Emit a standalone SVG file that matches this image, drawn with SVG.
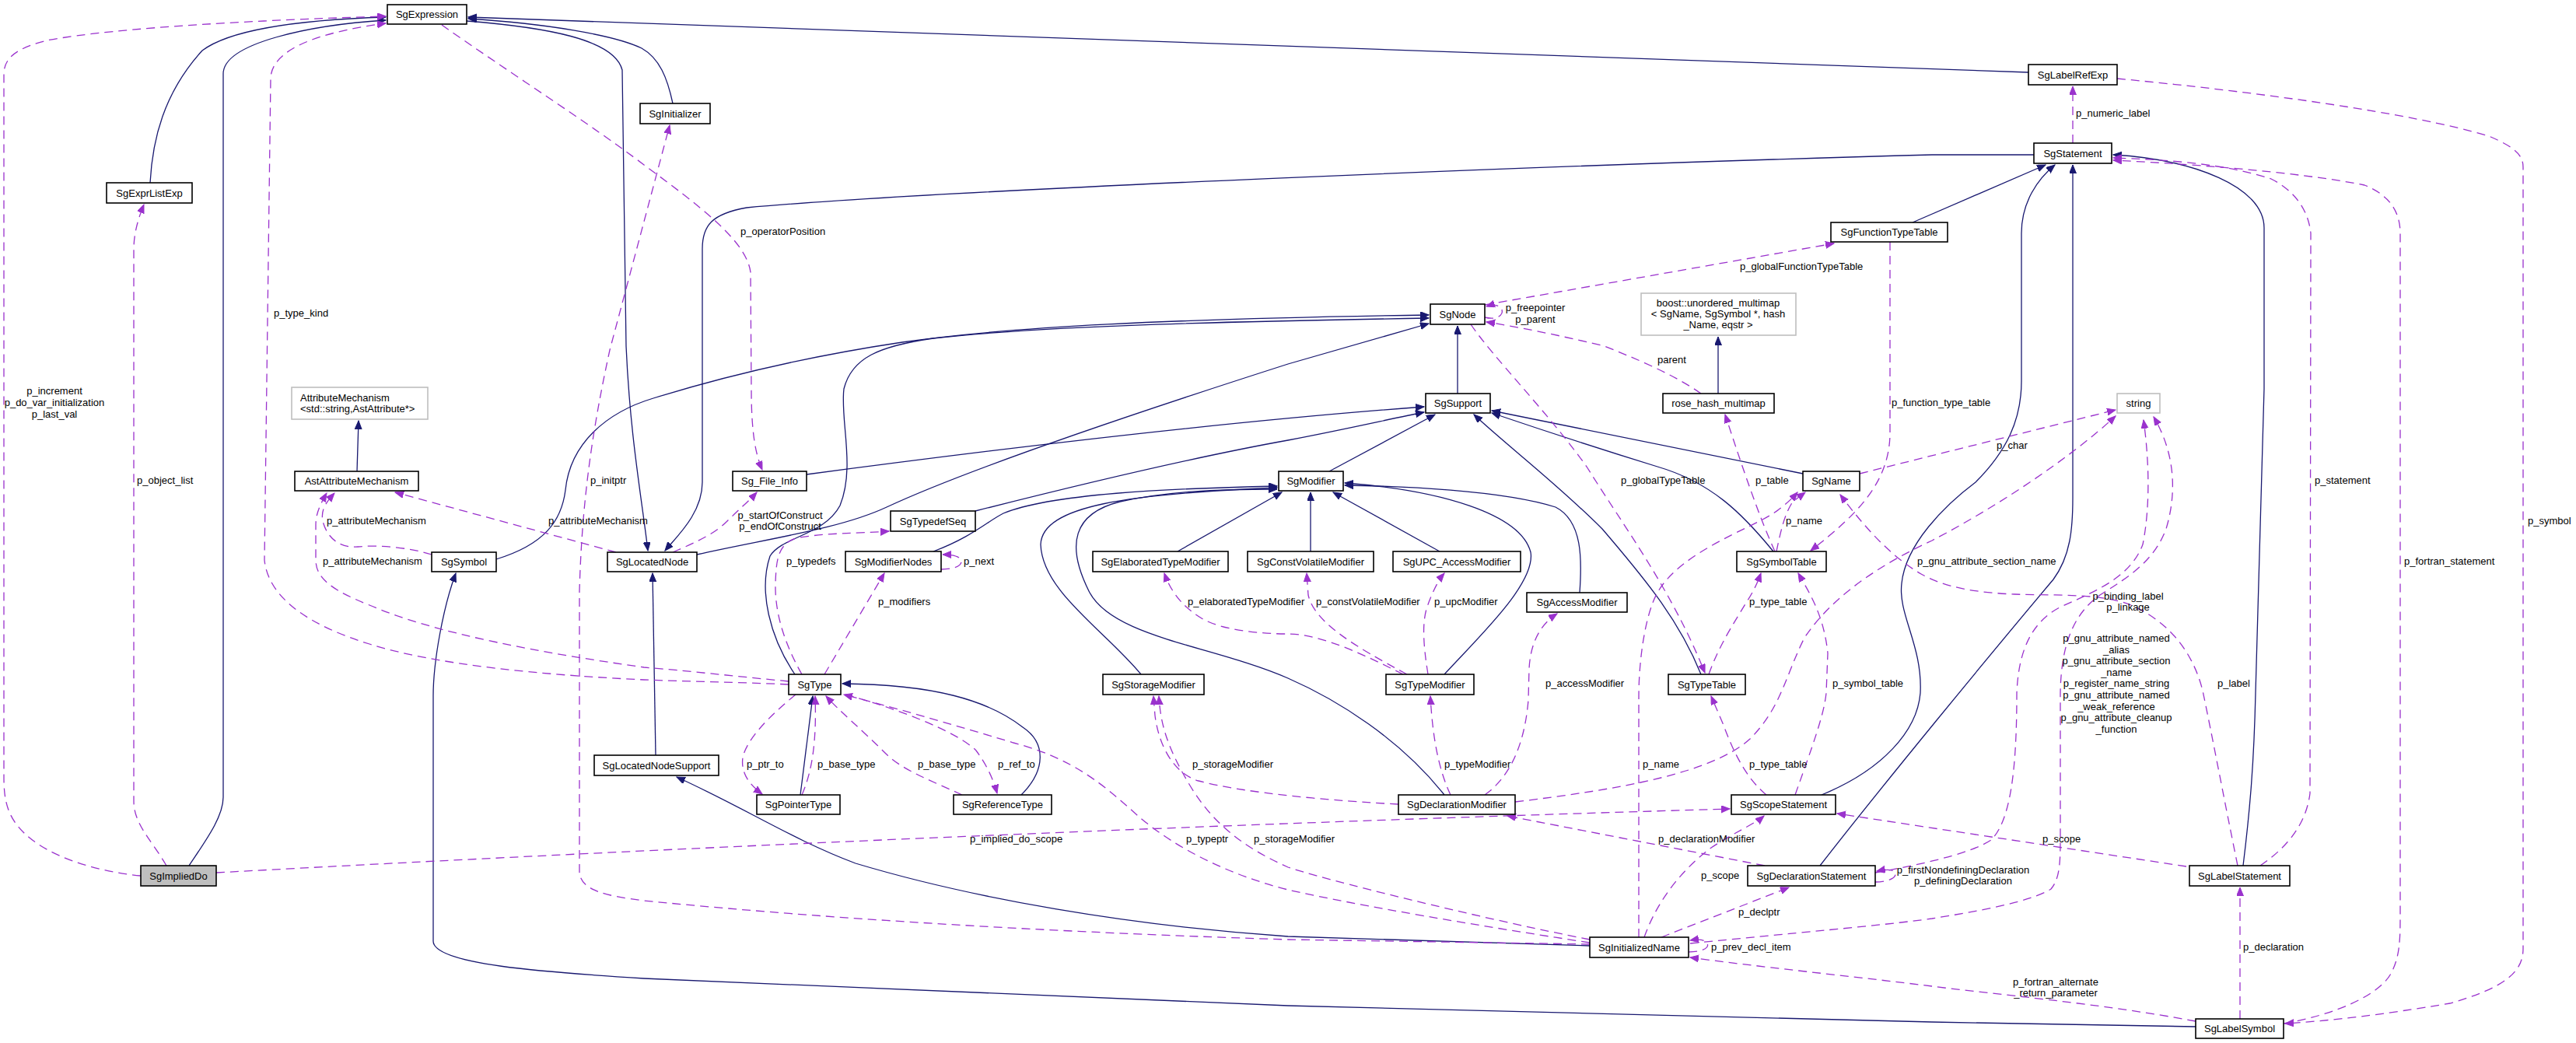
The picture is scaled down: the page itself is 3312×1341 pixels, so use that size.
<svg xmlns="http://www.w3.org/2000/svg" width="3312" height="1341" viewBox="0 0 3312 1341">
<defs>
<marker id="ah" markerUnits="userSpaceOnUse" markerWidth="12" markerHeight="10" refX="11" refY="4.5" orient="auto"><path d="M0,0 L11,4.5 L0,9 Z" fill="#191970" stroke="#191970" stroke-width="1"/></marker>
<marker id="ap" markerUnits="userSpaceOnUse" markerWidth="12" markerHeight="10" refX="11" refY="4.5" orient="auto"><path d="M0,0 L11,4.5 L0,9 Z" fill="#9a32cd" stroke="#9a32cd" stroke-width="1"/></marker>
<style>
.inh{fill:none;stroke:#191970;stroke-width:1.3;marker-end:url(#ah)}
.use{fill:none;stroke:#9a32cd;stroke-width:1.3;stroke-dasharray:11,7;marker-end:url(#ap)}
.node rect{fill:#ffffff;stroke:#000000;stroke-width:1.6}
.node.gray rect{stroke:#bfbfbf}
.node.cur rect{fill:#bfbfbf}
text{font-family:"Liberation Sans",Arial,Helvetica,sans-serif;font-size:13px;fill:#000000}
.node text{text-anchor:middle}
.lbl{text-anchor:start}
.lc{text-anchor:middle}
</style>
</defs>
<rect x="0" y="0" width="3312" height="1341" fill="#ffffff"/>
<g id="edges">
<!-- inheritance -->
<path class="inh" d="M193,235 C196,180 210,120 260,65 C300,35 400,25 496,22"/>
<path class="inh" d="M243,1113 C265,1080 287,1050 287,1025 L287,95 C287,55 400,32 496,26"/>
<path class="inh" d="M865,133 C858,100 848,75 825,62 C790,45 700,30 602,24"/>
<path class="inh" d="M2608,93 L602,22"/>
<path class="inh" d="M600,27 C700,35 790,50 800,90 L805,445 C810,560 825,640 833,708"/>
<path class="inh" d="M2615,199 L2484,199 C2000,212 1200,245 960,267 C915,275 903,290 903,320 L903,620 C903,660 870,690 855,708"/>
<path class="inh" d="M843,971 L839,737"/>
<path class="inh" d="M896,713 C990,692 1080,680 1140,652 C1230,610 1400,550 1656,468 L1837,416"/>
<path class="inh" d="M638,719 C700,700 722,670 727,630 C733,570 780,530 840,512 C950,478 1060,455 1160,440 C1300,420 1500,410 1837,405"/>
<path class="inh" d="M1022,867 C990,820 975,760 990,715 C1005,690 1060,688 1080,650 C1100,600 1080,540 1085,500 C1095,460 1130,445 1200,435 C1350,418 1600,413 1837,409"/>
<path class="inh" d="M1874,506 L1874,419"/>
<path class="inh" d="M1037,610 C1300,575 1600,540 1831,523"/>
<path class="inh" d="M1254,657 C1400,620 1550,585 1656,566 C1730,552 1790,538 1831,530"/>
<path class="inh" d="M1709,606 L1845,533"/>
<path class="inh" d="M2318,609 L1918,528"/>
<path class="inh" d="M2280,709 C2240,660 2200,620 2131,600 C2050,575 1980,552 1918,531"/>
<path class="inh" d="M2187,867 C2160,800 2120,750 2060,680 C2000,620 1940,575 1895,533"/>
<path class="inh" d="M1200,709 C1250,690 1270,670 1290,660 C1350,635 1500,628 1642,625"/>
<path class="inh" d="M1467,867 C1420,810 1340,760 1338,700 C1340,650 1450,635 1642,627"/>
<path class="inh" d="M1857,1022 C1800,950 1720,900 1656,872 C1560,830 1430,820 1400,760 C1370,700 1380,660 1440,645 C1500,632 1560,629 1642,629"/>
<path class="inh" d="M1514,709 L1648,633"/>
<path class="inh" d="M1685,709 L1685,633"/>
<path class="inh" d="M1851,709 L1714,633"/>
<path class="inh" d="M1857,867 C1900,820 1975,750 1968,710 C1955,660 1850,630 1729,621"/>
<path class="inh" d="M2031,762 C2034,720 2035,670 2000,652 C1930,630 1800,625 1729,624"/>
<path class="inh" d="M2342,1022 C2420,990 2465,940 2469,891 C2472,830 2440,790 2445,750 C2450,700 2500,650 2540,620 C2580,580 2599,540 2599,490 L2599,300 C2599,260 2620,230 2642,212"/>
<path class="inh" d="M2340,1113 C2420,1010 2560,840 2640,745 C2662,715 2665,680 2665,640 L2665,212"/>
<path class="inh" d="M2884,1113 C2893,1040 2898,980 2900,891 L2911,500 L2911,293 C2911,240 2820,205 2717,199"/>
<path class="inh" d="M2459,286 L2630,212"/>
<path class="inh" d="M2823,1320 L2484,1314 L1656,1293 L828,1258 C700,1250 557,1240 557,1210 L557,895 C557,850 570,780 586,737"/>
<path class="inh" d="M2044,1216 L1656,1204 C1450,1190 1250,1155 1100,1110 C1020,1080 960,1040 870,999"/>
<path class="inh" d="M1029,1022 L1045,895"/>
<path class="inh" d="M1313,1022 C1345,990 1345,955 1315,935 C1270,900 1200,880 1083,879"/>
<path class="inh" d="M459,606 L461,541"/>
<path class="inh" d="M2209,506 L2209,433"/>
<!-- usage -->
<path class="use" d="M181,1126 C120,1120 60,1100 30,1070 C10,1050 5,1030 5,1000 L5,95 C5,70 30,60 60,52 C150,35 350,25 496,21"/>
<path class="use" d="M214,1113 C195,1080 172,1060 172,1030 L172,320 C172,300 178,280 185,263"/>
<path class="use" d="M278,1122 C900,1088 1600,1058 2224,1040"/>
<path class="use" d="M1014,880 C950,877 880,876 828,874 C700,868 560,855 475,828 C400,805 345,770 340,720 L348,100 C350,60 420,40 496,30"/>
<path class="use" d="M1014,876 C950,870 880,862 828,858 C700,840 560,815 475,778 C430,760 406,745 406,720 L406,675 C406,660 412,648 420,634"/>
<path class="use" d="M555,713 C530,705 490,700 460,703 C435,705 420,690 415,670 C412,655 420,645 430,634"/>
<path class="use" d="M792,710 L508,633"/>
<path class="use" d="M865,710 C900,695 920,685 935,670 C950,655 962,645 973,633"/>
<path class="use" d="M568,32 C650,90 760,160 828,212 C900,265 960,310 965,350 L966,500 C966,560 972,585 980,604"/>
<path class="use" d="M2044,1214 L1656,1208 C1400,1200 1100,1185 828,1158 C780,1152 745,1145 745,1120 L745,760 C748,650 760,560 784,450 L861,161"/>
<path class="use" d="M1031,867 C1010,830 996,790 997,750 C998,720 1000,700 1023,692 C1060,685 1100,686 1143,683"/>
<path class="use" d="M1060,867 L1137,737"/>
<path class="use" d="M1210,732 C1225,732 1236,728 1236,722 C1236,716 1226,713 1212,713"/>
<path class="use" d="M1804,867 C1760,845 1700,815 1656,815 C1620,815 1570,810 1545,795 C1520,780 1505,760 1497,737"/>
<path class="use" d="M1809,867 C1740,830 1690,800 1682,765 L1680,737"/>
<path class="use" d="M1836,867 C1830,830 1828,800 1835,780 C1842,760 1850,745 1857,737"/>
<path class="use" d="M1865,1022 C1850,990 1842,950 1839,895"/>
<path class="use" d="M1909,1022 C1940,1000 1960,960 1965,900 L1966,860 C1968,820 1985,800 2002,789"/>
<path class="use" d="M1798,1034 C1720,1030 1600,1020 1541,1004 C1510,995 1490,960 1485,920 L1483,895"/>
<path class="use" d="M2044,1208 C1900,1180 1700,1130 1656,1115 C1600,1090 1560,1060 1530,1010 C1500,960 1492,930 1490,895"/>
<path class="use" d="M2044,1212 C1900,1190 1750,1165 1656,1144 C1580,1125 1510,1090 1462,1048 C1420,1010 1380,975 1303,955 C1220,930 1150,910 1085,893"/>
<path class="use" d="M1031,1022 C1045,990 1050,950 1048,895"/>
<path class="use" d="M1023,893 C990,920 960,950 955,974 C952,995 965,1010 980,1021"/>
<path class="use" d="M1237,1022 C1200,1005 1160,990 1140,970 C1110,940 1080,915 1062,895"/>
<path class="use" d="M1087,893 C1150,910 1230,940 1255,965 C1270,985 1278,1005 1282,1020"/>
<path class="use" d="M1948,1031 C2080,1015 2200,995 2250,950 C2290,910 2295,870 2320,820 C2360,760 2430,720 2484,695 C2570,650 2660,590 2720,535"/>
<path class="use" d="M2269,1113 L1938,1049"/>
<path class="use" d="M2114,1205 C2130,1160 2160,1120 2200,1090 C2230,1070 2255,1060 2268,1049"/>
<path class="use" d="M2136,1205 L2300,1141"/>
<path class="use" d="M2171,1224 C2190,1224 2198,1218 2195,1213 C2192,1208 2185,1207 2173,1209"/>
<path class="use" d="M2107,1205 L2107,895 C2107,850 2115,790 2131,762 C2160,710 2250,680 2280,660 C2295,650 2305,640 2311,633"/>
<path class="use" d="M2284,709 C2290,680 2295,660 2305,645 L2321,633"/>
<path class="use" d="M2282,709 C2260,660 2240,600 2218,533"/>
<path class="use" d="M1909,408 C1925,412 1933,405 1931,398 C1929,392 1920,391 1911,394"/>
<path class="use" d="M2187,506 C2150,480 2100,460 2063,445 C2000,430 1950,420 1911,414"/>
<path class="use" d="M1909,392 L2358,313"/>
<path class="use" d="M1891,417 C1920,460 1990,530 2040,600 C2090,680 2150,760 2192,865"/>
<path class="use" d="M2430,311 L2430,560 C2428,620 2390,660 2328,708"/>
<path class="use" d="M2391,609 L2720,527"/>
<path class="use" d="M2308,1022 C2330,960 2345,920 2348,891 L2350,840 C2345,790 2325,760 2312,737"/>
<path class="use" d="M2197,867 C2210,830 2230,800 2245,775 C2255,760 2260,748 2264,737"/>
<path class="use" d="M2271,1022 C2245,1000 2230,970 2215,930 L2200,895"/>
<path class="use" d="M2665,184 L2665,111"/>
<path class="use" d="M2906,1113 C2940,1090 2965,1060 2970,1020 L2971,300 C2968,270 2950,245 2920,230 C2860,210 2780,205 2717,203"/>
<path class="use" d="M2936,1316 C3000,1305 3060,1280 3075,1250 C3085,1230 3086,1210 3086,1180 L3086,300 C3086,270 3070,250 3040,238 C2950,220 2800,210 2717,206"/>
<path class="use" d="M2722,101 C2900,118 3100,145 3200,175 C3235,190 3244,200 3244,215 L3244,1220 C3244,1250 3220,1270 3150,1290 C3060,1305 3000,1312 2938,1316"/>
<path class="use" d="M2811,1114 L2362,1046"/>
<path class="use" d="M2880,1310 L2880,1141"/>
<path class="use" d="M2823,1313 C2700,1290 2560,1278 2484,1268 C2380,1255 2260,1243 2173,1231"/>
<path class="use" d="M2877,1113 C2860,1030 2845,950 2832,888 C2820,840 2790,800 2740,778 C2700,762 2640,766 2590,764 C2540,762 2500,755 2470,738 C2430,715 2395,675 2366,636"/>
<path class="use" d="M2411,1122 C2450,1115 2530,1100 2560,1080 C2585,1055 2593,990 2593,891 C2595,840 2610,800 2650,780 C2700,758 2740,740 2755,700 C2765,650 2763,590 2756,540"/>
<path class="use" d="M2173,1213 C2300,1200 2420,1190 2484,1181 C2540,1172 2610,1160 2637,1143 C2648,1130 2649,1110 2649,1080 L2649,891 C2650,830 2665,790 2700,765 C2740,740 2770,720 2785,680 C2800,630 2795,580 2769,536"/>
<path class="use" d="M2411,1134 C2425,1134 2437,1130 2437,1124 C2437,1118 2428,1117 2413,1120"/>
</g>
<g id="edge-labels">
<text class="lc" x="70" y="507">p_increment</text>
<text class="lc" x="70" y="522">p_do_var_initialization</text>
<text class="lc" x="70" y="537">p_last_val</text>
<text class="lbl" x="176" y="622">p_object_list</text>
<text class="lbl" x="352" y="407">p_type_kind</text>
<text class="lbl" x="952" y="302">p_operatorPosition</text>
<text class="lbl" x="2669" y="150">p_numeric_label</text>
<text class="lbl" x="2237" y="347">p_globalFunctionTypeTable</text>
<text class="lc" x="1974" y="400">p_freepointer</text>
<text class="lc" x="1974" y="415">p_parent</text>
<text class="lbl" x="2131" y="467">parent</text>
<text class="lbl" x="2432" y="522">p_function_type_table</text>
<text class="lbl" x="2567" y="577">p_char</text>
<text class="lbl" x="2976" y="622">p_statement</text>
<text class="lbl" x="3250" y="674">p_symbol</text>
<text class="lbl" x="3091" y="726">p_fortran_statement</text>
<text class="lbl" x="2084" y="622">p_globalTypeTable</text>
<text class="lbl" x="2257" y="622">p_table</text>
<text class="lbl" x="2296" y="674">p_name</text>
<text class="lbl" x="2465" y="726">p_gnu_attribute_section_name</text>
<text class="lbl" x="420" y="674">p_attributeMechanism</text>
<text class="lbl" x="415" y="726">p_attributeMechanism</text>
<text class="lbl" x="705" y="674">p_attributeMechanism</text>
<text class="lbl" x="759" y="622">p_initptr</text>
<text class="lc" x="1003" y="667">p_startOfConstruct</text>
<text class="lc" x="1003" y="681">p_endOfConstruct</text>
<text class="lbl" x="1011" y="726">p_typedefs</text>
<text class="lbl" x="1239" y="726">p_next</text>
<text class="lbl" x="1129" y="778">p_modifiers</text>
<text class="lbl" x="1527" y="778">p_elaboratedTypeModifier</text>
<text class="lbl" x="1692" y="778">p_constVolatileModifier</text>
<text class="lbl" x="1844" y="778">p_upcModifier</text>
<text class="lbl" x="2249" y="778">p_type_table</text>
<text class="lbl" x="1987" y="883">p_accessModifier</text>
<text class="lbl" x="2356" y="883">p_symbol_table</text>
<text class="lc" x="2736" y="771">p_binding_label</text>
<text class="lc" x="2736" y="785">p_linkage</text>
<text class="lc" x="2721" y="825">p_gnu_attribute_named</text>
<text class="lc" x="2721" y="840">_alias</text>
<text class="lc" x="2721" y="854">p_gnu_attribute_section</text>
<text class="lc" x="2721" y="869">_name</text>
<text class="lc" x="2721" y="883">p_register_name_string</text>
<text class="lc" x="2721" y="898">p_gnu_attribute_named</text>
<text class="lc" x="2721" y="913">_weak_reference</text>
<text class="lc" x="2721" y="927">p_gnu_attribute_cleanup</text>
<text class="lc" x="2721" y="942">_function</text>
<text class="lbl" x="2851" y="883">p_label</text>
<text class="lbl" x="960" y="987">p_ptr_to</text>
<text class="lbl" x="1051" y="987">p_base_type</text>
<text class="lbl" x="1180" y="987">p_base_type</text>
<text class="lbl" x="1283" y="987">p_ref_to</text>
<text class="lbl" x="1533" y="987">p_storageModifier</text>
<text class="lbl" x="1857" y="987">p_typeModifier</text>
<text class="lbl" x="2112" y="987">p_name</text>
<text class="lbl" x="2249" y="987">p_type_table</text>
<text class="lbl" x="1247" y="1083">p_implied_do_scope</text>
<text class="lbl" x="1525" y="1083">p_typeptr</text>
<text class="lbl" x="1612" y="1083">p_storageModifier</text>
<text class="lbl" x="2132" y="1083">p_declarationModifier</text>
<text class="lbl" x="2626" y="1083">p_scope</text>
<text class="lbl" x="2187" y="1130">p_scope</text>
<text class="lc" x="2524" y="1123">p_firstNondefiningDeclaration</text>
<text class="lc" x="2524" y="1137">p_definingDeclaration</text>
<text class="lbl" x="2235" y="1177">p_declptr</text>
<text class="lbl" x="2200" y="1222">p_prev_decl_item</text>
<text class="lbl" x="2884" y="1222">p_declaration</text>
<text class="lc" x="2643" y="1267">p_fortran_alternate</text>
<text class="lc" x="2643" y="1281">_return_parameter</text>
</g>
<g id="SgExpression" class="node"><rect x="498" y="6" width="102" height="25"/><text x="549" y="23">SgExpression</text></g>
<g id="SgExprListExp" class="node"><rect x="137" y="235" width="110" height="26"/><text x="192" y="252.5">SgExprListExp</text></g>
<g id="SgInitializer" class="node"><rect x="823" y="133" width="90" height="26"/><text x="868" y="150.5">SgInitializer</text></g>
<g id="SgLabelRefExp" class="node"><rect x="2608" y="83" width="114" height="26"/><text x="2665" y="100.5">SgLabelRefExp</text></g>
<g id="SgStatement" class="node"><rect x="2615" y="184" width="100" height="26"/><text x="2665" y="201.5">SgStatement</text></g>
<g id="SgFunctionTypeTable" class="node"><rect x="2354" y="286" width="150" height="25"/><text x="2429" y="303">SgFunctionTypeTable</text></g>
<g id="SgNode" class="node"><rect x="1839" y="391" width="70" height="26"/><text x="1874" y="408.5">SgNode</text></g>
<g id="boost_unordered_multimap" class="node gray"><rect x="2110" y="377" width="199" height="54"/><text x="2209" y="393.5">boost::unordered_multimap</text><text x="2209" y="407.5">&lt; SgName, SgSymbol *, hash</text><text x="2209" y="421.5">_Name, eqstr &gt;</text></g>
<g id="AttributeMechanism" class="node gray"><rect x="375" y="498" width="175" height="41"/><text x="386" y="515.5" style="text-anchor:start">AttributeMechanism</text><text x="386" y="529.5" style="text-anchor:start">&lt;std::string,AstAttribute*&gt;</text></g>
<g id="SgSupport" class="node"><rect x="1833" y="506" width="83" height="25"/><text x="1874.5" y="523">SgSupport</text></g>
<g id="rose_hash_multimap" class="node"><rect x="2138" y="506" width="143" height="25"/><text x="2209.5" y="523">rose_hash_multimap</text></g>
<g id="string" class="node gray"><rect x="2722" y="506" width="55" height="25"/><text x="2749.5" y="523">string</text></g>
<g id="AstAttributeMechanism" class="node"><rect x="379" y="606" width="159" height="25"/><text x="458.5" y="623">AstAttributeMechanism</text></g>
<g id="Sg_File_Info" class="node"><rect x="942" y="606" width="95" height="25"/><text x="989.5" y="623">Sg_File_Info</text></g>
<g id="SgModifier" class="node"><rect x="1644" y="606" width="83" height="25"/><text x="1685.5" y="623">SgModifier</text></g>
<g id="SgName" class="node"><rect x="2318" y="606" width="73" height="25"/><text x="2354.5" y="623">SgName</text></g>
<g id="SgTypedefSeq" class="node"><rect x="1145" y="657" width="109" height="26"/><text x="1199.5" y="674.5">SgTypedefSeq</text></g>
<g id="SgSymbol" class="node"><rect x="555" y="710" width="83" height="25"/><text x="596.5" y="727">SgSymbol</text></g>
<g id="SgLocatedNode" class="node"><rect x="781" y="710" width="115" height="25"/><text x="838.5" y="727">SgLocatedNode</text></g>
<g id="SgModifierNodes" class="node"><rect x="1087" y="709" width="123" height="26"/><text x="1148.5" y="726.5">SgModifierNodes</text></g>
<g id="SgElaboratedTypeModifier" class="node"><rect x="1405" y="709" width="174" height="26"/><text x="1492" y="726.5">SgElaboratedTypeModifier</text></g>
<g id="SgConstVolatileModifier" class="node"><rect x="1604" y="709" width="162" height="26"/><text x="1685" y="726.5">SgConstVolatileModifier</text></g>
<g id="SgUPC_AccessModifier" class="node"><rect x="1791" y="709" width="164" height="26"/><text x="1873" y="726.5">SgUPC_AccessModifier</text></g>
<g id="SgSymbolTable" class="node"><rect x="2233" y="709" width="115" height="26"/><text x="2290.5" y="726.5">SgSymbolTable</text></g>
<g id="SgAccessModifier" class="node"><rect x="1963" y="762" width="129" height="25"/><text x="2027.5" y="779">SgAccessModifier</text></g>
<g id="SgType" class="node"><rect x="1014" y="867" width="67" height="26"/><text x="1047.5" y="884.5">SgType</text></g>
<g id="SgStorageModifier" class="node"><rect x="1418" y="867" width="130" height="26"/><text x="1483" y="884.5">SgStorageModifier</text></g>
<g id="SgTypeModifier" class="node"><rect x="1782" y="867" width="113" height="26"/><text x="1838.5" y="884.5">SgTypeModifier</text></g>
<g id="SgTypeTable" class="node"><rect x="2145" y="867" width="99" height="26"/><text x="2194.5" y="884.5">SgTypeTable</text></g>
<g id="SgLocatedNodeSupport" class="node"><rect x="764" y="971" width="160" height="26"/><text x="844" y="988.5">SgLocatedNodeSupport</text></g>
<g id="SgPointerType" class="node"><rect x="973" y="1022" width="107" height="25"/><text x="1026.5" y="1039">SgPointerType</text></g>
<g id="SgReferenceType" class="node"><rect x="1226" y="1022" width="126" height="25"/><text x="1289" y="1039">SgReferenceType</text></g>
<g id="SgDeclarationModifier" class="node"><rect x="1798" y="1022" width="150" height="25"/><text x="1873" y="1039">SgDeclarationModifier</text></g>
<g id="SgScopeStatement" class="node"><rect x="2226" y="1022" width="134" height="25"/><text x="2293" y="1039">SgScopeStatement</text></g>
<g id="SgImpliedDo" class="node cur"><rect x="181" y="1113" width="97" height="26"/><text x="229.5" y="1130.5">SgImpliedDo</text></g>
<g id="SgDeclarationStatement" class="node"><rect x="2247" y="1113" width="164" height="26"/><text x="2329" y="1130.5">SgDeclarationStatement</text></g>
<g id="SgLabelStatement" class="node"><rect x="2815" y="1113" width="129" height="26"/><text x="2879.5" y="1130.5">SgLabelStatement</text></g>
<g id="SgInitializedName" class="node"><rect x="2044" y="1205" width="127" height="26"/><text x="2107.5" y="1222.5">SgInitializedName</text></g>
<g id="SgLabelSymbol" class="node"><rect x="2823" y="1310" width="113" height="25"/><text x="2879.5" y="1327">SgLabelSymbol</text></g>
</svg>
